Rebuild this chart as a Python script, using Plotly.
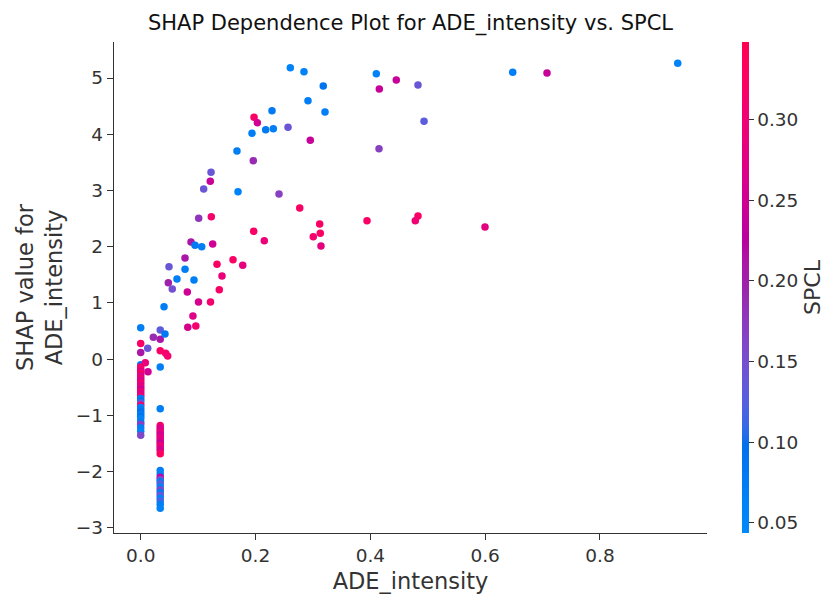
import numpy as np
import plotly.graph_objects as go

# ---------------- data ----------------
# points stacked on ADE_intensity == 0
zero_x = [0.0] * 33
zero_shap = [0.56, 0.28, 0.12,
             -0.10, -0.14, -0.18, -0.22, -0.26, -0.30, -0.34, -0.38, -0.42,
             -0.46, -0.50, -0.54, -0.58, -0.62, -0.66, -0.70, -0.74, -0.78,
             -0.82, -0.86, -0.90, -0.94, -0.98, -1.02, -1.06, -1.12, -1.16,
             -1.22, -1.28, -1.35]
zero_spcl = [0.07, 0.32, 0.21,
             0.08, 0.32, 0.31, 0.27, 0.33, 0.26, 0.30, 0.25, 0.32,
             0.27, 0.29, 0.24, 0.31, 0.26, 0.30, 0.07, 0.09, 0.13,
             0.31, 0.06, 0.08, 0.10, 0.07, 0.09, 0.06, 0.08, 0.17,
             0.07, 0.06, 0.16]

# points stacked on ADE_intensity ~= 0.034
low_x = [0.034] * 32
low_shap = [0.52, 0.355, 0.15, -0.14, -0.88,
            -1.18, -1.22, -1.26, -1.30, -1.34, -1.38, -1.42, -1.46, -1.50,
            -1.54, -1.58, -1.62, -1.68,
            -1.98, -2.04, -2.10, -2.14, -2.18, -2.22, -2.27, -2.32, -2.37,
            -2.42, -2.47, -2.52, -2.58, -2.65]
low_spcl = [0.13, 0.21, 0.32, 0.07, 0.07,
            0.32, 0.27, 0.26, 0.30, 0.25, 0.27, 0.29, 0.26, 0.24,
            0.31, 0.27, 0.26, 0.33,
            0.07, 0.06, 0.24, 0.15, 0.07, 0.13, 0.06, 0.16, 0.08,
            0.14, 0.06, 0.12, 0.07, 0.06]

# remaining scattered points
rest_x = [0.0406, 0.0423, 0.0481, 0.055, 0.022, 0.0122, 0.0435, 0.047,
          0.008, 0.0127,
          0.2606, 0.2844, 0.318, 0.2914, 0.321, 0.2287, 0.1974, 0.2031,
          0.1939, 0.2177, 0.231, 0.2566, 0.2954, 0.1677, 0.1961, 0.1225,
          0.1212, 0.1097, 0.1695, 0.2409, 0.277, 0.101, 0.123, 0.1968,
          0.2153, 0.3118, 0.3128, 0.3006, 0.314, 0.0876, 0.0946, 0.1063,
          0.1254, 0.0772, 0.0493, 0.0772, 0.1329, 0.1608, 0.1777, 0.0632,
          0.0928, 0.1416, 0.0812, 0.1369, 0.1007, 0.1216, 0.091, 0.082,
          0.096,
          0.4104, 0.4156, 0.4452, 0.483, 0.4935, 0.4151, 0.648, 0.7077,
          0.9354, 0.3942, 0.483, 0.4783, 0.5997]
rest_shap = [0.934, 0.449, 1.361, 1.249, 0.390, 0.195, 0.106, 0.058,
             -0.061, -0.221,
             5.183, 5.112, 4.858, 4.596, 4.396, 4.419, 4.301, 4.205,
             4.017, 4.081, 4.099, 4.124, 3.892, 3.702, 3.530, 3.324,
             3.164, 3.027, 2.979, 2.938, 2.689, 2.506, 2.534, 2.275,
             2.108, 2.404, 2.239, 2.179, 2.013, 2.084, 2.026, 2.001,
             2.049, 1.800, 1.645, 1.599, 1.688, 1.770, 1.670, 1.427,
             1.409, 1.480, 1.196, 1.236, 1.018, 1.018, 0.77, 0.57,
             0.59,
             5.076, 4.804, 4.964, 4.875, 4.230, 3.743, 5.101, 5.089,
             5.261, 2.463, 2.547, 2.463, 2.351]
rest_spcl = [0.07, 0.08, 0.20, 0.15, 0.19, 0.14, 0.31, 0.31,
             0.29, 0.25,
             0.06, 0.06, 0.09, 0.07, 0.07, 0.08, 0.32, 0.25,
             0.07, 0.08, 0.07, 0.14, 0.24, 0.07, 0.19, 0.14,
             0.24, 0.14, 0.06, 0.17, 0.32, 0.18, 0.31, 0.32,
             0.29, 0.32, 0.32, 0.31, 0.28, 0.21, 0.08, 0.07,
             0.25, 0.21, 0.14, 0.07, 0.32, 0.32, 0.28, 0.07,
             0.07, 0.29, 0.25, 0.32, 0.26, 0.31, 0.27, 0.26,
             0.31,
             0.06, 0.24, 0.24, 0.14, 0.13, 0.17, 0.07, 0.24,
             0.06, 0.32, 0.32, 0.30, 0.28]

x_ticks = [0.0, 0.2, 0.4, 0.6, 0.8]
x_tick_labels = ["0.0", "0.2", "0.4", "0.6", "0.8"]
y_ticks = [-3, -2, -1, 0, 1, 2, 3, 4, 5]
y_tick_labels = ["\u22123", "\u22122", "\u22121", "0", "1", "2", "3", "4", "5"]
c_ticks = [0.05, 0.10, 0.15, 0.20, 0.25, 0.30]
c_tick_labels = ["0.05", "0.10", "0.15", "0.20", "0.25", "0.30"]

ade = zero_x + low_x + rest_x
shap_vals = zero_shap + low_shap + rest_shap
spcl = zero_spcl + low_spcl + rest_spcl


# ---------------- shap "red_blue" colormap (LCH interpolation) ----------------
def lch2rgb(l, c, h):
    a, b = c * np.cos(h), c * np.sin(h)
    fy = (l + 16.0) / 116.0
    fx = fy + a / 500.0
    fz = fy - b / 200.0

    def finv(t):
        return t ** 3 if t > 0.2068966 else (t - 16.0 / 116.0) / 7.787

    xyz = np.array([0.95047 * finv(fx), finv(fy), 1.08883 * finv(fz)])
    m = np.array([[3.2404542, -1.5371385, -0.4985314],
                  [-0.9692660, 1.8760108, 0.0415560],
                  [0.0556434, -0.2040259, 1.0572252]])
    lin = m @ xyz
    rgb = np.where(lin > 0.0031308, 1.055 * np.power(np.clip(lin, 0, None), 1 / 2.4) - 0.055, 12.92 * lin)
    return np.clip(rgb, 0, 1)


blue_lch = [54.0, 70.0, 4.6588]
red_lch = [54.0, 90.0, 0.35470565 + 2 * np.pi]
l_mid = 40.0
nsteps = 100
l_vals = list(np.linspace(blue_lch[0], l_mid, nsteps // 2)) + list(np.linspace(l_mid, red_lch[0], nsteps // 2))
c_vals = np.linspace(blue_lch[1], red_lch[1], nsteps)
h_vals = np.linspace(blue_lch[2], red_lch[2], nsteps)
colorscale = []
for pos, l, c, h in zip(np.linspace(0, 1, nsteps), l_vals, c_vals, h_vals):
    r, g, b = (lch2rgb(l, c, h) * 255).round().astype(int)
    colorscale.append([float(pos), f"rgb({r},{g},{b})"])

# ---------------- figure ----------------
FONT = "DejaVu Sans"
DARK = "#333333"

fig = go.Figure()
fig.add_trace(go.Scatter(
    x=ade, y=shap_vals, mode="markers",
    marker=dict(
        size=7.5, color=spcl, colorscale=colorscale, cmin=0.0438, cmax=0.348,
        line=dict(width=0),
        colorbar=dict(
            x=1.059, xanchor="left", xref="paper", y=0.5, yanchor="middle",
            len=1.0, lenmode="fraction", thickness=7, outlinewidth=0,
            xpad=0, ypad=0,
            ticks="outside", ticklen=5, tickwidth=1.3, tickcolor=DARK,
            tickvals=c_ticks, ticktext=c_tick_labels,
            tickfont=dict(family=FONT, size=18.5, color=DARK),
            title=dict(text="SPCL", side="right", font=dict(family=FONT, size=22, color=DARK)),
        ),
    ),
    showlegend=False, hoverinfo="skip",
))

fig.update_layout(
    width=828, height=597,
    margin=dict(l=114, r=121, t=42, b=64, autoexpand=False),
    paper_bgcolor="white", plot_bgcolor="white",
    font=dict(family=FONT, color=DARK),
    title=dict(
        text="SHAP Dependence Plot for ADE_intensity vs. SPCL",
        x=0.5, xref="paper", xanchor="center",
        y=1 - 23 / 597, yref="container", yanchor="middle",
        font=dict(family=FONT, size=21, color="#111111"),
    ),
    xaxis=dict(
        range=[-0.0465, 0.9864], tickvals=x_ticks, ticktext=x_tick_labels,
        showline=True, linecolor=DARK, linewidth=1.3, mirror=False,
        ticks="outside", ticklen=6, tickwidth=1.3, tickcolor=DARK,
        showgrid=False, zeroline=False,
        tickfont=dict(family=FONT, size=18.5, color=DARK),
        title=dict(text="ADE_intensity", standoff=7,
                   font=dict(family=FONT, size=22.5, color=DARK)),
    ),
    yaxis=dict(
        range=[-3.09, 5.64], tickvals=y_ticks, ticktext=y_tick_labels,
        showline=True, linecolor=DARK, linewidth=1.3, mirror=False,
        ticks="outside", ticklen=6, tickwidth=1.3, tickcolor=DARK,
        showgrid=False, zeroline=False,
        tickfont=dict(family=FONT, size=18.5, color=DARK),
        title=dict(text="SHAP value for<br>ADE_intensity", standoff=6,
                   font=dict(family=FONT, size=22.5, color=DARK)),
    ),
)

fig.write_html("out.html")
